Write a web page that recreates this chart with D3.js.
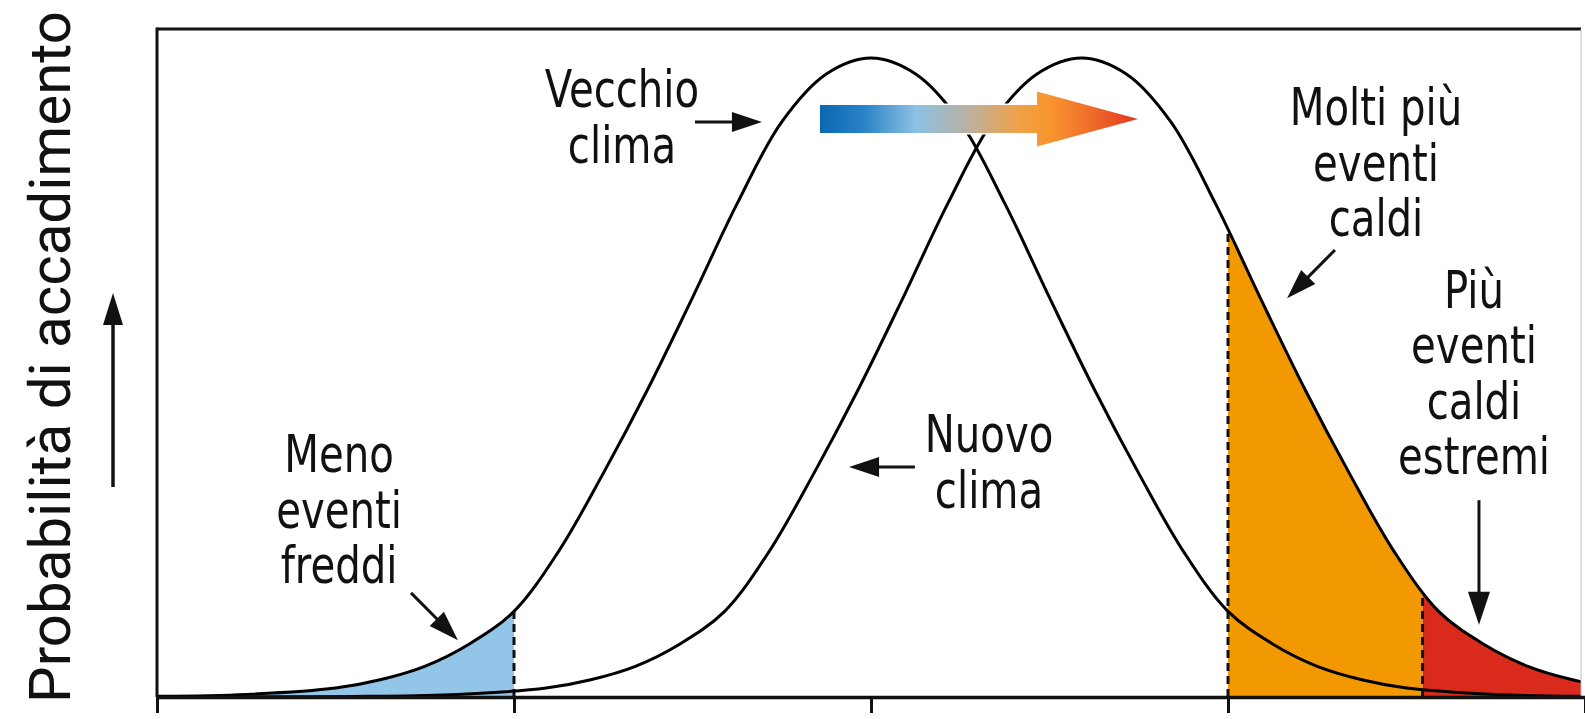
<!DOCTYPE html>
<html>
<head>
<meta charset="utf-8">
<script src="https://cdn.jsdelivr.net/npm/d3@7/dist/d3.min.js"></script>
<style>
  html, body { margin: 0; padding: 0; background: #fff; }
  svg { display: block; }
  .ann { font-family: "Liberation Sans Narrow", "DejaVu Sans Condensed", "Arial Narrow", sans-serif; font-size: 52px; fill: #111; }
</style>
</head>
<body>
<svg id="chart" width="1585" height="719"></svg>
<script>
// ---------------- DATA ----------------
const xTicks = [-4, -2, 0, 2, 4];
// "Vecchio clima" distribution (relative probability, peak = 1)
const oldX = [-4, -3.5, -3, -2.75, -2.5, -2.25, -2, -1.75, -1.5, -1.25, -1, -0.75, -0.5, -0.25, 0,
              0.25, 0.5, 0.75, 1, 1.25, 1.5, 1.75, 2, 2.25, 2.5, 2.75, 3, 3.5, 4];
const oldY = [0.001, 0.004, 0.014, 0.027, 0.048, 0.083, 0.134, 0.228, 0.35, 0.482, 0.625, 0.772, 0.9, 0.975, 1,
              0.975, 0.9, 0.772, 0.625, 0.482, 0.35, 0.228, 0.134, 0.083, 0.048, 0.027, 0.014, 0.004, 0.001];
// "Nuovo clima" distribution (shifted to the right)
const newX = [-3.82, -3.32, -2.82, -2.32, -1.82, -1.57, -1.32, -1.07, -0.82, -0.57, -0.32, -0.07, 0.18, 0.43, 0.68,
              0.93, 1.18, 1.43, 1.68, 1.93, 2.18, 2.43, 2.68, 2.93, 3.18, 3.43, 3.68, 3.93, 4.18, 4.68];
const newY = [0.0001, 0.0003, 0.001, 0.004, 0.014, 0.027, 0.048, 0.083, 0.134, 0.228, 0.35, 0.482, 0.625, 0.772, 0.9,
              0.975, 1, 0.975, 0.9, 0.772, 0.625, 0.482, 0.35, 0.228, 0.134, 0.083, 0.048, 0.027, 0.014, 0.004];
// thresholds: cold events, hot events, extreme hot events
const thresholds = [-2, 2, 3.09];
const yLabel = "Probabilità di accadimento";
const labels = [
  { lines: ["Vecchio", "clima"], x: -1.395, y: 0.923 },
  { lines: ["Nuovo", "clima"], x: 0.661, y: 0.383 },
  { lines: ["Meno", "eventi", "freddi"], x: -2.98, y: 0.352 },
  { lines: ["Molti più", "eventi", "caldi"], x: 2.829, y: 0.895 },
  { lines: ["Più", "eventi", "caldi", "estremi"], x: 3.378, y: 0.609 }
];
const pointers = [
  { x1: -0.986, y1: 0.900, x2: -0.611, y2: 0.900 },
  { x1: 0.246, y1: 0.360, x2: -0.123, y2: 0.360 },
  { x1: -2.577, y1: 0.163, x2: -2.314, y2: 0.089 },
  { x1: 2.599, y1: 0.6995, x2: 2.331, y2: 0.624 },
  { x1: 3.406, y1: 0.308, x2: 3.406, y2: 0.113 }
];
const shiftArrow = { x0: -0.286, xHead: 0.93, xTip: 1.496, y: 0.9045 };

// ---------------- LAYOUT ----------------
const mLeft = 157, mTop = 29, mBottom = 697, rightBorder = 1581;
const svg = d3.select("#chart");

const x = d3.scaleLinear().domain([-4, 4]).range([157, 1585]);
const y = d3.scaleLinear().domain([0, 1]).range([mBottom, 58]);

const defs = svg.append("defs");
defs.append("clipPath").attr("id", "plotClip")
  .append("rect").attr("x", mLeft).attr("y", mTop).attr("width", rightBorder - mLeft).attr("height", mBottom - mTop);

const oldData = oldX.map((v, i) => [v, oldY[i]]);
const newData = newX.map((v, i) => [v, newY[i]]);

const crv = d3.curveCatmullRom.alpha(0.5);
const line = d3.line().x(d => x(d[0])).y(d => y(d[1])).curve(crv);
const area = d3.area().x(d => x(d[0])).y0(y(0)).y1(d => y(d[1])).curve(crv);

defs.append("clipPath").attr("id", "oldArea").append("path").attr("d", area(oldData));
defs.append("clipPath").attr("id", "newArea").append("path").attr("d", area(newData));

function rangeClip(id, a, b) {
  defs.append("clipPath").attr("id", id).append("rect")
    .attr("x", x(a)).attr("y", mTop).attr("width", x(b) - x(a)).attr("height", mBottom - mTop);
}
rangeClip("clipCold", -4, thresholds[0]);
rangeClip("clipHot", thresholds[1], thresholds[2]);
rangeClip("clipExtreme", thresholds[2], 4.5);

const plot = svg.append("g").attr("clip-path", "url(#plotClip)");

plot.append("g").attr("clip-path", "url(#clipCold)")
  .append("path").attr("d", area(oldData)).attr("fill", "#92c5e8");
plot.append("g").attr("clip-path", "url(#clipHot)")
  .append("path").attr("d", area(newData)).attr("fill", "#f29800");
plot.append("g").attr("clip-path", "url(#clipExtreme)")
  .append("path").attr("d", area(newData)).attr("fill", "#da2a1c");

// dashed threshold lines, clipped by the curve areas
const dashDefs = [
  { t: thresholds[0], clip: "oldArea" },
  { t: thresholds[1], clip: "newArea" },
  { t: thresholds[2], clip: "newArea" }
];
dashDefs.forEach(d => {
  plot.append("g").attr("clip-path", `url(#${d.clip})`)
    .append("line")
    .attr("x1", x(d.t)).attr("x2", x(d.t))
    .attr("y1", y(0)).attr("y2", mTop)
    .attr("stroke", "#111").attr("stroke-width", 3)
    .attr("stroke-dasharray", "8,5");
});

plot.append("path").attr("d", line(oldData)).attr("fill", "none").attr("stroke", "#000").attr("stroke-width", 3);
plot.append("path").attr("d", line(newData)).attr("fill", "none").attr("stroke", "#000").attr("stroke-width", 3);

// frame
svg.append("line").attr("x1", mLeft).attr("x2", rightBorder).attr("y1", mTop).attr("y2", mTop)
  .attr("stroke", "#111").attr("stroke-width", 3);
svg.append("line").attr("x1", mLeft).attr("x2", mLeft).attr("y1", mTop - 1.5).attr("y2", mBottom)
  .attr("stroke", "#111").attr("stroke-width", 3);
svg.append("line").attr("x1", rightBorder).attr("x2", rightBorder).attr("y1", mTop).attr("y2", mBottom)
  .attr("stroke", "#bbb").attr("stroke-width", 1);

// x axis with ticks, no labels
const xAxis = d3.axisBottom(x).tickValues(xTicks).tickSize(16).tickSizeOuter(0).tickFormat("");
const ax = svg.append("g").attr("transform", `translate(0,${mBottom})`).call(xAxis);
ax.select(".domain").attr("stroke", "#111").attr("stroke-width", 3.5);
ax.selectAll(".tick line").attr("stroke", "#111").attr("stroke-width", 3);

// gradient shift arrow
const grad = defs.append("linearGradient").attr("id", "shiftGrad")
  .attr("gradientUnits", "userSpaceOnUse")
  .attr("x1", x(shiftArrow.x0)).attr("x2", x(shiftArrow.xTip)).attr("y1", 0).attr("y2", 0);
[[0, "#0a68b2"], [0.14, "#2a83c6"], [0.3, "#8cc1e5"], [0.45, "#b5b3a8"], [0.62, "#eea24a"],
 [0.72, "#f8962e"], [0.86, "#ef6a2a"], [1, "#e3351c"]].forEach(s =>
  grad.append("stop").attr("offset", s[0]).attr("stop-color", s[1]));
const ay = y(shiftArrow.y), sh = 14, hh = 27.5;
const ap = d3.path();
ap.moveTo(x(shiftArrow.x0), ay - sh);
ap.lineTo(x(shiftArrow.xHead), ay - sh);
ap.lineTo(x(shiftArrow.xHead), ay - hh);
ap.lineTo(x(shiftArrow.xTip), ay);
ap.lineTo(x(shiftArrow.xHead), ay + hh);
ap.lineTo(x(shiftArrow.xHead), ay + sh);
ap.lineTo(x(shiftArrow.x0), ay + sh);
ap.closePath();
svg.append("path").attr("d", ap.toString()).attr("fill", "url(#shiftGrad)")
  .attr("stroke", "#fff").attr("stroke-width", 3).attr("paint-order", "stroke");

// pointer arrows
function arrow(x1, y1, x2, y2, headLen, headW, lw) {
  const dx = x2 - x1, dy = y2 - y1, L = Math.hypot(dx, dy);
  const ux = dx / L, uy = dy / L;
  const bx = x2 - ux * headLen, by = y2 - uy * headLen;
  svg.append("line").attr("x1", x1).attr("y1", y1).attr("x2", bx + ux * 2).attr("y2", by + uy * 2)
    .attr("stroke", "#111").attr("stroke-width", lw);
  const p = d3.path();
  p.moveTo(x2, y2);
  p.lineTo(bx - uy * headW / 2, by + ux * headW / 2);
  p.lineTo(bx + uy * headW / 2, by - ux * headW / 2);
  p.closePath();
  svg.append("path").attr("d", p.toString()).attr("fill", "#111");
}
pointers.forEach((p, i) => {
  const big = i === 4;
  arrow(x(p.x1), y(p.y1), x(p.x2), y(p.y2), big ? 33 : 30, big ? 22 : 20, 3);
});

// labels (horizontally condensed to match the narrow face of the original)
labels.forEach(l => {
  const g = svg.append("g").attr("transform", `translate(${x(l.x)},${y(l.y)}) scale(0.86,1)`);
  const t = g.append("text").attr("class", "ann").attr("text-anchor", "middle");
  l.lines.forEach((s, i) => {
    t.append("tspan").attr("x", 0).attr("y", i * 55.5).text(s);
  });
});

// y label with up arrow
svg.append("text")
  .attr("transform", "translate(70,703) rotate(-90)")
  .attr("font-family", "Roboto, 'Open Sans', sans-serif")
  .attr("font-size", 58)
  .attr("fill", "#111")
  .attr("textLength", 692)
  .attr("lengthAdjust", "spacingAndGlyphs")
  .text(yLabel);
arrow(113, 487, 113, 293, 32, 20, 3.5);
</script>
</body>
</html>
